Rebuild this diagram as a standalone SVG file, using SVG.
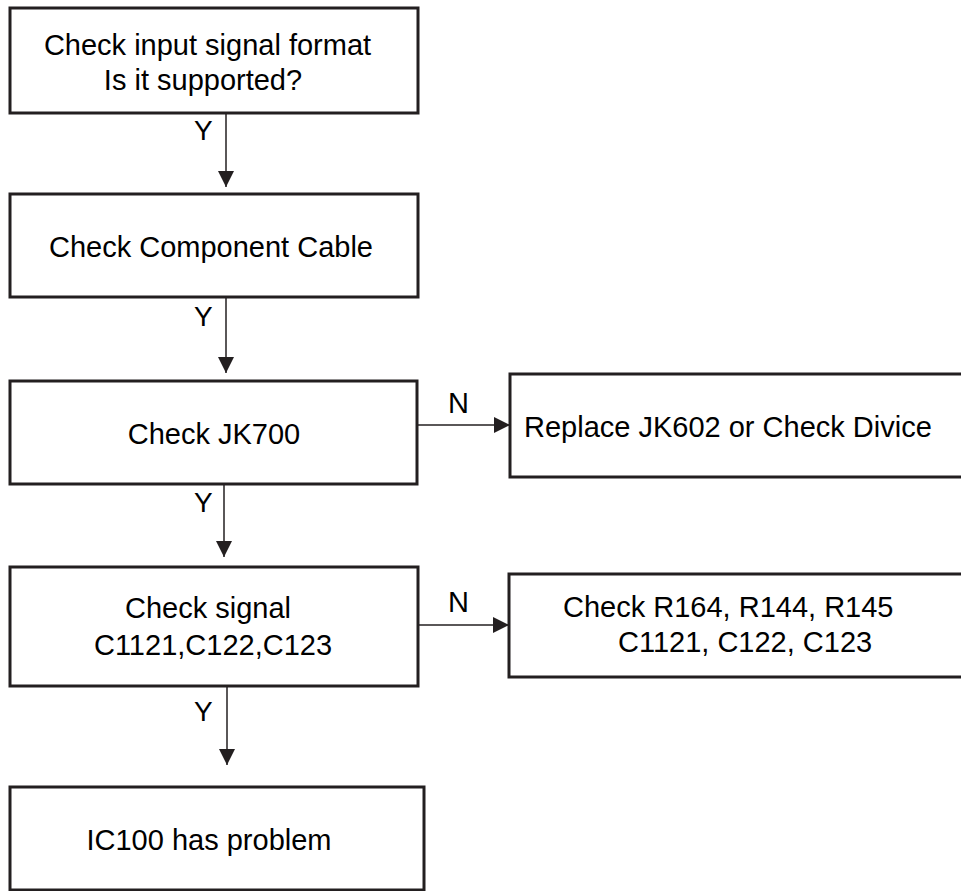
<svg xmlns="http://www.w3.org/2000/svg" width="961" height="891" viewBox="0 0 961 891">
<style>
.box{fill:#fff;stroke:#231f20;stroke-width:3}
.t{font-family:"Liberation Sans",Arial,sans-serif;font-size:29px;fill:#000}
.lb{font-family:"Liberation Sans",Arial,sans-serif;font-size:28px;fill:#000}
.c{stroke:#231f20;stroke-width:1.5;fill:none;marker-end:url(#ah)}
</style>
<defs>
<marker id="ah" markerUnits="userSpaceOnUse" markerWidth="16" markerHeight="16" refX="16" refY="8" orient="auto">
<path d="M0,0 L16,8 L0,16 Z" fill="#231f20"/>
</marker>
</defs>
<rect width="961" height="891" fill="#fff"/>
<g id="connectors">
<line class="c" x1="226" y1="114" x2="226" y2="187"/>
<line class="c" x1="226" y1="298" x2="226" y2="373"/>
<line class="c" x1="418" y1="425" x2="510" y2="425"/>
<line class="c" x1="224" y1="485" x2="224" y2="557"/>
<line class="c" x1="418" y1="625" x2="509" y2="625"/>
<line class="c" x1="227" y1="687" x2="227" y2="765"/>
<text class="lb" x="194" y="140">Y</text>
<text class="lb" x="194" y="326">Y</text>
<text class="lb" x="448" y="413" style="font-size:29px">N</text>
<text class="lb" x="194" y="512">Y</text>
<text class="lb" x="448" y="612" style="font-size:29px">N</text>
<text class="lb" x="194" y="721">Y</text>
</g>
<g id="n1">
<rect class="box" x="10" y="8" width="408" height="105"/>
<text class="t" x="207.5" y="55" text-anchor="middle">Check input signal format</text>
<text class="t" x="203" y="90" text-anchor="middle">Is it supported?</text>
</g>
<g id="n2">
<rect class="box" x="10" y="194" width="408" height="103"/>
<text class="t" x="211" y="257" text-anchor="middle">Check Component Cable</text>
</g>
<g id="n3">
<rect class="box" x="10" y="381" width="407" height="103"/>
<text class="t" x="214" y="444" text-anchor="middle">Check JK700</text>
</g>
<g id="n4">
<rect class="box" x="510" y="374" width="470" height="103"/>
<text class="t" x="524" y="437">Replace JK602 or Check Divice</text>
</g>
<g id="n5">
<rect class="box" x="10" y="567" width="408" height="119"/>
<text class="t" x="208" y="618" text-anchor="middle">Check signal</text>
<text class="t" x="213" y="655" text-anchor="middle">C1121,C122,C123</text>
</g>
<g id="n6">
<rect class="box" x="509" y="574" width="470" height="103"/>
<text class="t" x="563" y="617">Check R164, R144, R145</text>
<text class="t" x="618" y="652">C1121, C122, C123</text>
</g>
<g id="n7">
<rect class="box" x="10" y="787" width="414" height="103"/>
<text class="t" x="209" y="850" text-anchor="middle">IC100 has problem</text>
</g>
</svg>
